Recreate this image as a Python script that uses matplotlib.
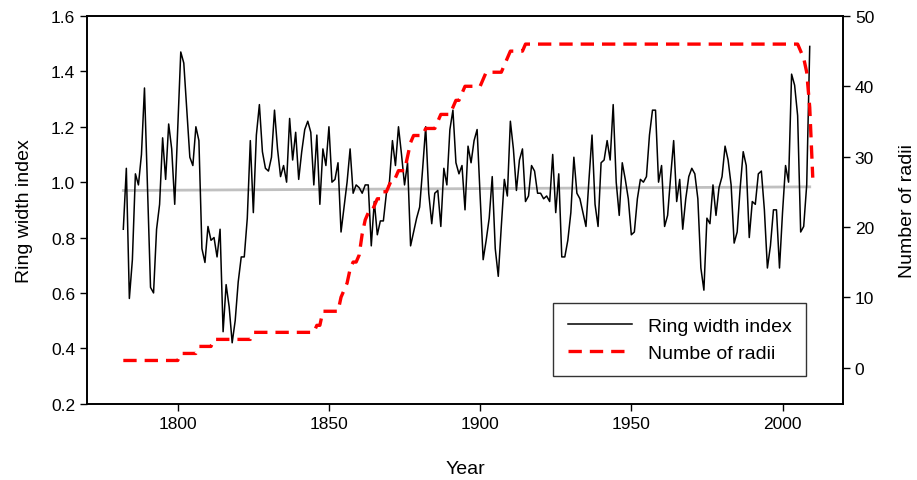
import matplotlib
matplotlib.use("Agg")
import matplotlib.pyplot as plt
import numpy as np

plt.rcParams['font.family'] = ['Liberation Sans', 'DejaVu Sans']

# ring width index, one value per year 1782-2009
ring_start = 1782
ring_width = [
    0.83, 1.05, 0.58, 0.72, 1.03, 0.99, 1.10, 1.34,                    # 1782-1789
    0.98, 0.62, 0.60, 0.83, 0.92, 1.16, 1.01, 1.21, 1.12, 0.92,        # 1790s
    1.20, 1.47, 1.43, 1.26, 1.09, 1.06, 1.20, 1.15, 0.76, 0.71,        # 1800s
    0.84, 0.79, 0.80, 0.73, 0.83, 0.46, 0.63, 0.55, 0.42, 0.50,        # 1810s
    0.64, 0.73, 0.73, 0.87, 1.15, 0.89, 1.17, 1.28, 1.11, 1.05,        # 1820s
    1.04, 1.09, 1.26, 1.12, 1.02, 1.06, 1.00, 1.23, 1.08, 1.18,        # 1830s
    1.01, 1.11, 1.19, 1.22, 1.18, 0.99, 1.17, 0.92, 1.12, 1.06,        # 1840s
    1.20, 1.00, 1.01, 1.07, 0.82, 0.91, 1.00, 1.12, 0.96, 0.99,        # 1850s
    0.98, 0.96, 0.99, 0.99, 0.77, 0.93, 0.81, 0.86, 0.86, 0.96,        # 1860s
    1.00, 1.15, 1.06, 1.20, 1.10, 0.99, 1.07, 0.77, 0.82, 0.87,        # 1870s
    0.91, 1.05, 1.20, 0.96, 0.85, 0.96, 0.97, 0.84, 1.05, 0.99,        # 1880s
    1.19, 1.26, 1.07, 1.03, 1.06, 0.90, 1.13, 1.07, 1.15, 1.19,        # 1890s
    0.95, 0.72, 0.79, 0.87, 1.02, 0.76, 0.66, 0.84, 1.01, 0.95,        # 1900s
    1.22, 1.12, 0.97, 1.08, 1.12, 0.93, 0.95, 1.06, 1.04, 0.96,        # 1910s
    0.96, 0.94, 0.95, 0.93, 1.10, 0.89, 1.03, 0.73, 0.73, 0.79,        # 1920s
    0.89, 1.09, 0.96, 0.94, 0.89, 0.84, 1.01, 1.17, 0.92, 0.84,        # 1930s
    1.07, 1.08, 1.15, 1.08, 1.28, 1.00, 0.88, 1.07, 1.01, 0.94,        # 1940s
    0.81, 0.82, 0.94, 1.01, 1.00, 1.02, 1.17, 1.26, 1.26, 1.00,        # 1950s
    1.06, 0.84, 0.88, 1.02, 1.15, 0.93, 1.01, 0.83, 0.94, 1.02,        # 1960s
    1.05, 1.03, 0.94, 0.69, 0.61, 0.87, 0.85, 0.99, 0.88, 0.98,        # 1970s
    1.02, 1.13, 1.08, 0.99, 0.78, 0.82, 0.98, 1.11, 1.06, 0.80,        # 1980s
    0.93, 0.92, 1.03, 1.04, 0.90, 0.69, 0.77, 0.90, 0.90, 0.69,        # 1990s
    0.89, 1.06, 1.00, 1.39, 1.35, 1.24, 0.82, 0.84, 0.99, 1.49,        # 2000s
]

# number of radii, one value per year 1782-2010
radii_start = 1782
radii = [
    1, 1, 1, 1, 1, 1, 1, 1,
    1, 1, 1, 1, 1, 1, 1, 1, 1, 1,
    1, 2, 2, 2, 2, 2, 2, 3, 3, 3,
    3, 3, 4, 4, 4, 4, 4, 4, 4, 4,
    4, 4, 4, 4, 4, 5, 5, 5, 5, 5,
    5, 5, 5, 5, 5, 5, 5, 5, 5, 5,
    5, 5, 5, 5, 5, 5, 6, 6, 8, 8,
    8, 8, 8, 8, 10, 11, 12, 14, 15, 15,
    16, 19, 21, 22, 22, 23, 24, 24, 25, 25,
    26, 27, 27, 28, 28, 28, 30, 32, 33, 33,
    33, 33, 34, 34, 34, 34, 35, 36, 36, 36,
    36, 37, 38, 38, 39, 40, 40, 40, 40, 40,
    40, 41, 42, 42, 42, 42, 42, 42, 43, 44,
    45, 45, 45, 45, 45, 46, 46, 46, 46, 46,
    46, 46, 46, 46, 46, 46, 46, 46, 46, 46,
    46, 46, 46, 46, 46, 46, 46, 46, 46, 46,
    46, 46, 46, 46, 46, 46, 46, 46, 46, 46,
    46, 46, 46, 46, 46, 46, 46, 46, 46, 46,
    46, 46, 46, 46, 46, 46, 46, 46, 46, 46,
    46, 46, 46, 46, 46, 46, 46, 46, 46, 46,
    46, 46, 46, 46, 46, 46, 46, 46, 46, 46,
    46, 46, 46, 46, 46, 46, 46, 46, 46, 46,
    46, 46, 46, 46, 46, 46, 45, 44, 42, 37,
    27,
]

# grey trend line (end points)
trend_years = [1782, 2009]
trend_values = [0.970, 0.983]

ring_years = np.arange(ring_start, ring_start + len(ring_width))
radii_years = np.arange(radii_start, radii_start + len(radii))

fig = plt.figure(figsize=(9.17, 4.81), dpi=100)
ax = fig.add_axes([0.0949, 0.1586, 0.8244, 0.8061])

ax.plot(trend_years, trend_values, color='#c0c0c0', lw=2, zorder=1)
l1, = ax.plot(ring_years, ring_width, color='black', lw=1.1, zorder=2,
              label='Ring width index')
ax.set_xlim(1770, 2020)
ax.set_ylim(0.2, 1.6)
ax.set_xticks([1800, 1850, 1900, 1950, 2000])
ax.set_yticks([0.2, 0.4, 0.6, 0.8, 1.0, 1.2, 1.4, 1.6])
ax.set_yticklabels(['0.2', '0.4', '0.6', '0.8', '1.0', '1.2', '1.4', '1.6'])
ax.tick_params(direction='out', length=5, width=1, labelsize=12.5)
ax.set_xlabel('Year', fontsize=14, labelpad=21)
ax.set_ylabel('Ring width index', fontsize=14, labelpad=13)

ax2 = ax.twinx()
l2, = ax2.plot(radii_years, radii, color='red', lw=2.4, dashes=(4.0, 2.4),
               label='Numbe of radii')
ax2.set_ylim(-5.15, 50)
ax2.set_yticks([0, 10, 20, 30, 40, 50])
ax2.tick_params(direction='out', length=5, width=1, labelsize=12.5)
ax2.set_ylabel('Number of radii', fontsize=14, labelpad=18)

for a in (ax, ax2):
    for s in a.spines.values():
        s.set_linewidth(1.2)

leg = ax2.legend(handles=[l1, l2], loc='lower right',
                 bbox_to_anchor=(0.951, 0.071), fontsize=14,
                 frameon=True, fancybox=False, edgecolor='black',
                 handlelength=3.3, borderpad=0.75, labelspacing=0.45,
                 borderaxespad=0)
leg.get_frame().set_linewidth(1.0)

fig.savefig('out.png', dpi=100)
